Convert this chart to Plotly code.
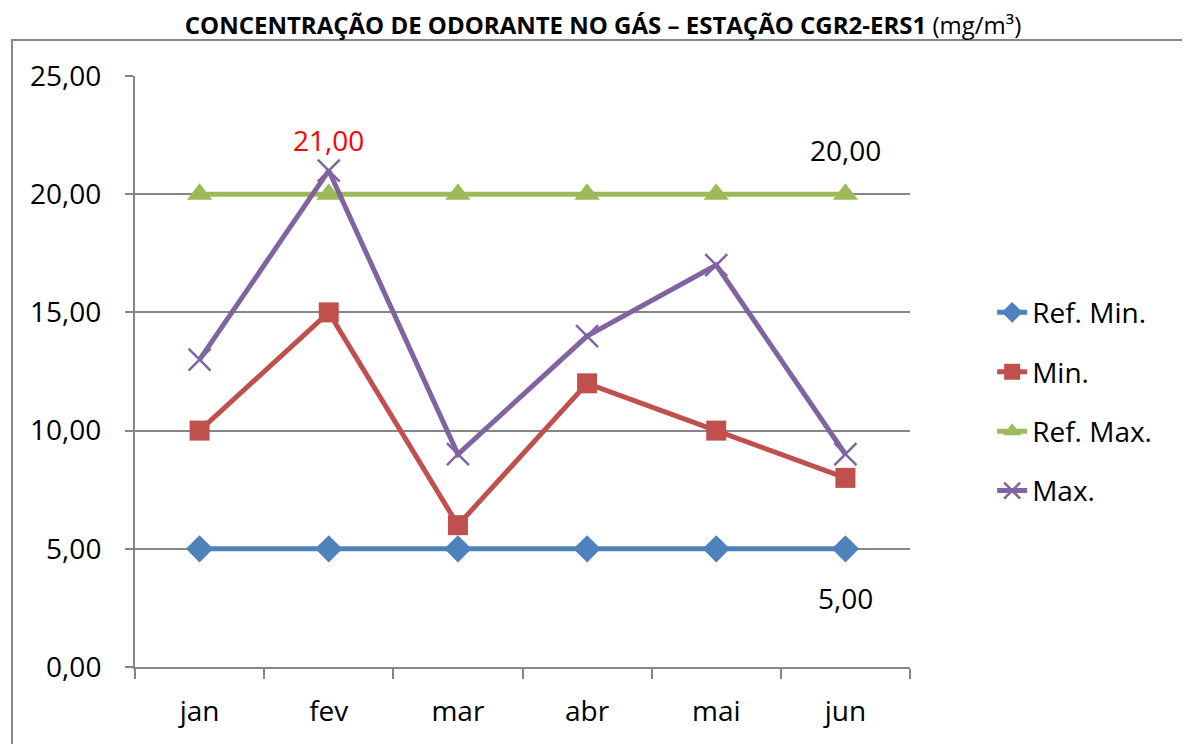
import plotly.graph_objects as go

months = ["jan", "fev", "mar", "abr", "mai", "jun"]
ref_min = [5, 5, 5, 5, 5, 5]
min_vals = [10, 15, 6, 12, 10, 8]
ref_max = [20, 20, 20, 20, 20, 20]
max_vals = [13, 21, 9, 14, 17, 9]

FONT = "Open Sans"
FS = 28
fig = go.Figure()

series = [
    ("Ref. Min.", ref_min, "#4F81BD", dict(symbol="diamond", size=21)),
    ("Min.", min_vals, "#C0504D", dict(symbol="square", size=20)),
    ("Ref. Max.", ref_max, "#9BBB59", dict(symbol="triangle-up", size=22)),
    ("Max.", max_vals, "#8064A2", dict(symbol="x-thin", size=22, line=dict(width=2.5, color="#8064A2"))),
]
for i, (name, vals, col, mk) in enumerate(series):
    fig.add_trace(go.Scatter(
        x=months, y=vals, name=name, mode="lines+markers",
        line=dict(color=col, width=5), marker=dict(color=col, **mk),
        legendgroup=str(i),
    ))

# data labels
fig.add_annotation(x="fev", y=max_vals[1], text="21,00", showarrow=False, yshift=31,
                   font=dict(color="#FF0000", size=FS, family=FONT))
fig.add_annotation(x="jun", y=ref_max[5], text="20,00", showarrow=False, yshift=44,
                   font=dict(color="#000000", size=FS, family=FONT))
fig.add_annotation(x="jun", y=ref_min[5], text="5,00", showarrow=False, yshift=-49,
                   font=dict(color="#000000", size=FS, family=FONT))

# chart frame
fig.add_shape(type="rect", xref="paper", yref="paper", x0=-0.1587, x1=1.5, y0=-0.3, y1=1.0609,
              line=dict(color="#878787", width=2), layer="below")

fig.update_layout(
    width=1190, height=744,
    margin=dict(l=127, r=288, t=68, b=85),
    paper_bgcolor="white", plot_bgcolor="white",
    separators=",.",
    title=dict(
        text="<b>CONCENTRAÇÃO DE ODORANTE NO GÁS – ESTAÇÃO CGR2-ERS1</b> (mg/m³)",
        x=0.5, xanchor="center", y=0.977, yanchor="middle",
        font=dict(family=FONT, size=24, color="#000000"),
    ),
    font=dict(family=FONT, size=FS, color="#000000"),
    legend=dict(
        x=1.106, xanchor="left", y=0.449, yanchor="middle",
        font=dict(size=FS, family=FONT), tracegroupgap=20,
        traceorder="grouped", bgcolor="rgba(0,0,0,0)",
    ),
    xaxis=dict(
        type="category", showgrid=False, showline=True, linecolor="#868686", linewidth=2,
        ticks="outside", tickson="boundaries", ticklen=10, tickcolor="#868686", tickwidth=2,
        tickfont=dict(size=FS, family=FONT), range=[-0.5, 5.5], ticklabelstandoff=18,
    ),
    yaxis=dict(
        range=[0, 25], tickvals=[0, 5, 10, 15, 20, 25], tickformat=".2f",
        showgrid=True, gridcolor="#868686", gridwidth=2,
        showline=True, linecolor="#868686", linewidth=2,
        ticks="outside", ticklen=8, tickcolor="#868686", tickwidth=2,
        tickfont=dict(size=FS, family=FONT), zeroline=False, ticklabelstandoff=18,
    ),
)

fig.write_html("out.html")
